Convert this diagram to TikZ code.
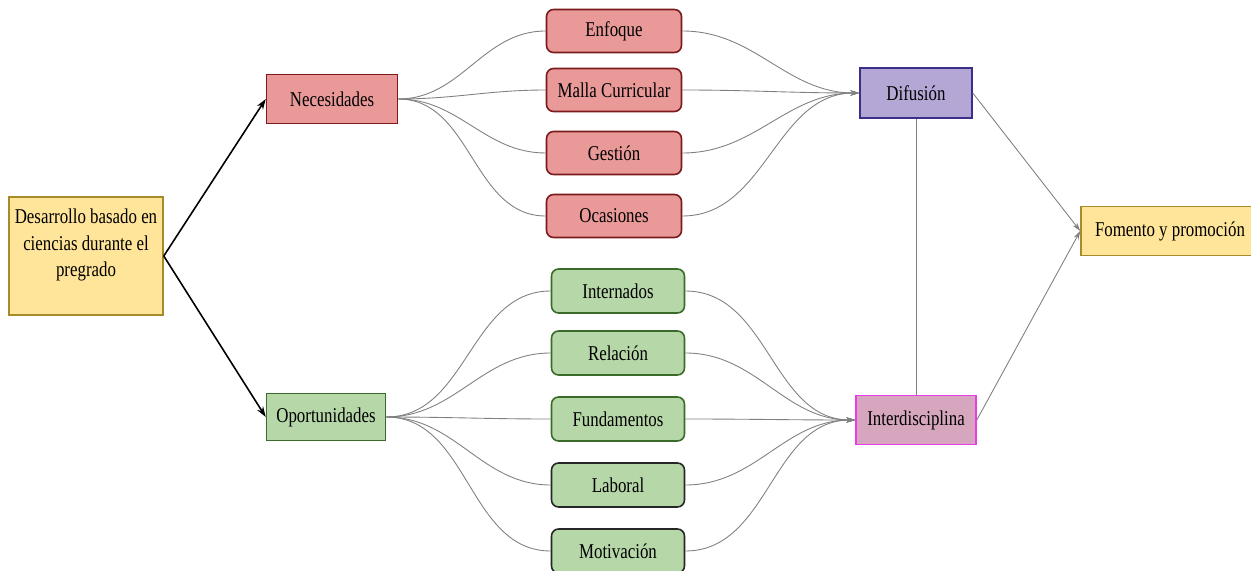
\documentclass[tikz,border=0pt]{standalone}
\usepackage{fontspec}
\setmainfont[FakeStretch=0.8]{Liberation Serif}
\usetikzlibrary{positioning, arrows.meta}

\definecolor{yelfill}{HTML}{FFE599}
\definecolor{yeldraw}{HTML}{A88A2A}
\definecolor{necfill}{HTML}{EA9999}
\definecolor{necdraw}{HTML}{7A1A1A}
\definecolor{opfill}{HTML}{B6D7A8}
\definecolor{opdraw}{HTML}{3A6B2A}
\definecolor{diffill}{HTML}{B4A7D6}
\definecolor{difdraw}{HTML}{3C2F8A}
\definecolor{intfill}{HTML}{D5A6BD}
\definecolor{intdraw}{HTML}{E83CE8}

\begin{document}
\begin{tikzpicture}[x=0.02cm, y=-0.02cm,
  box/.style={rectangle, draw, line width=0.9pt, align=center, inner sep=2pt,
    font=\fontsize{12}{15}\selectfont},
  mainbox/.style={box, fill=yelfill, draw=yeldraw, minimum width=3.08cm, minimum height=2.36cm},
  necbox/.style={box, fill=necfill, draw=necdraw, minimum width=2.7cm, minimum height=0.86cm, rounded corners=4pt},
  opbox/.style={box, fill=opfill, draw=opdraw, minimum width=2.66cm, minimum height=0.88cm, rounded corners=4pt},
  arrow/.style={-{Stealth[length=6pt, width=4pt]}, line width=0.9pt},
  link/.style={draw=gray, line width=0.5pt},
  fanin/.style={link, -{Stealth[length=5pt, width=3pt]}}
]
\useasboundingbox (0,0) rectangle (1251,571);

\node[mainbox] (des) at (86, 256) {Desarrollo basado en\\ ciencias durante el\\ pregrado\\ \mbox{}};

\node[box, fill=necfill, draw=necdraw, minimum width=2.62cm, minimum height=0.98cm] (nec) at (332, 99) {Necesidades};
\node[box, fill=opfill, draw=opdraw, minimum width=2.38cm, minimum height=0.94cm] (opo) at (326, 417) {Oportunidades};

\node[necbox] (enf) at (614, 31) {Enfoque};
\node[necbox] (mal) at (614, 90) {Malla Curricular};
\node[necbox] (ges) at (614, 153) {Gestión};
\node[necbox] (oca) at (614, 216) {Ocasiones};

\node[opbox] (inn) at (618, 291) {Internados};
\node[opbox] (rel) at (618, 353) {Relación};
\node[opbox] (fun) at (618, 419) {Fundamentos};
\node[opbox, draw=black!85] (lab) at (618, 485) {Laboral};
\node[opbox, draw=black!85] (mot) at (618, 551) {Motivación};

\node[box, fill=diffill, draw=difdraw, minimum width=2.24cm, minimum height=1cm] (dif) at (916, 93) {Difusión};
\node[box, fill=intfill, draw=intdraw, minimum width=2.4cm, minimum height=0.98cm] (int) at (916, 420) {Interdisciplina};
\node[mainbox, minimum width=3.56cm, minimum height=0.98cm] (fom) at (1170, 231) {Fomento y promoción};

\draw[arrow] (des.east) -- (nec.west);
\draw[arrow] (des.east) -- (opo.west);

% fan out
\draw[link] (nec.east) to[out=0, in=180] (enf.west);
\draw[link] (nec.east) to[out=0, in=180] (mal.west);
\draw[link] (nec.east) to[out=0, in=180] (ges.west);
\draw[link] (nec.east) to[out=0, in=180] (oca.west);
\draw[link] (opo.east) to[out=0, in=180] (inn.west);
\draw[link] (opo.east) to[out=0, in=180] (rel.west);
\draw[link] (opo.east) to[out=0, in=180] (fun.west);
\draw[link] (opo.east) to[out=0, in=180] (lab.west);
\draw[link] (opo.east) to[out=0, in=180] (mot.west);

% fan in
\draw[fanin] (enf.east) to[out=0, in=180] (dif.west);
\draw[fanin] (mal.east) to[out=0, in=180] (dif.west);
\draw[fanin] (ges.east) to[out=0, in=180] (dif.west);
\draw[fanin] (oca.east) to[out=0, in=180] (dif.west);
\draw[fanin] (inn.east) to[out=0, in=180] (int.west);
\draw[fanin] (rel.east) to[out=0, in=180] (int.west);
\draw[fanin] (fun.east) to[out=0, in=180] (int.west);
\draw[fanin] (lab.east) to[out=0, in=180] (int.west);
\draw[fanin] (mot.east) to[out=0, in=180] (int.west);

\draw[link] (dif.south) -- (int.north);
\draw[fanin] (dif.east) -- (fom.west);
\draw[fanin] (int.east) -- (fom.west);

\end{tikzpicture}
\end{document}
